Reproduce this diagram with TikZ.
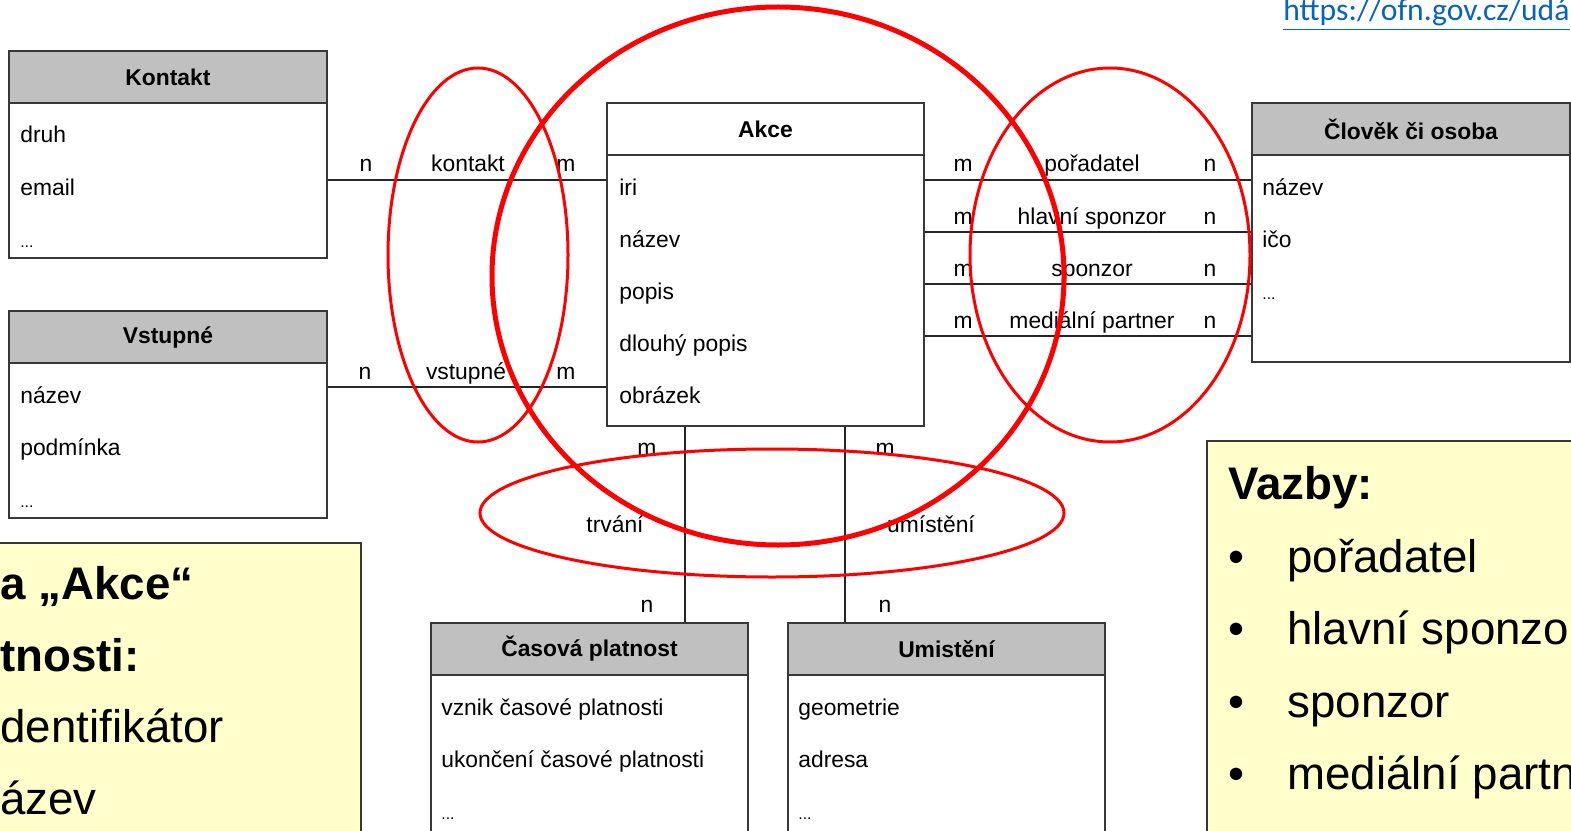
\documentclass[tikz,border=0pt]{standalone}
\usepackage{fontspec}
\setmainfont{Liberation Sans}
\newfontfamily\linkfont{Carlito}
\usetikzlibrary{positioning}

\definecolor{hdrgray}{HTML}{C0C0C0}
\definecolor{boxline}{HTML}{383838}
\definecolor{notefill}{HTML}{FFFFCC}
\definecolor{linkblue}{HTML}{0563C1}
\newcommand{\dgfont}{\fontsize{13}{15}\selectfont}
\newcommand{\notefont}{\fontsize{26}{30}\selectfont}

\begin{document}
\begin{tikzpicture}[x=0.02cm,y=-0.02cm,
  hdr/.style={draw=boxline,fill=hdrgray,line width=0.04cm,minimum width=6.36cm,minimum height=1.04cm,anchor=north west,inner sep=0pt,font=\bfseries\dgfont},
  bodybox/.style={draw=boxline,fill=white,line width=0.04cm,minimum width=6.36cm,anchor=north west,inner sep=0pt},
  attr/.style={anchor=base west,inner sep=0pt,font=\dgfont},
  dots/.style={anchor=base west,inner sep=0pt,font=\fontsize{9}{10}\selectfont},
  card/.style={anchor=base,inner sep=0pt,font=\dgfont},
  conn/.style={draw=black!85,line width=0.04cm},
  ring/.style={draw=red,line width=0.06cm},
  notebox/.style={draw=boxline,fill=notefill,line width=0.03cm},
  note/.style={anchor=base west,inner sep=0pt,font=\notefont}]
\useasboundingbox (0,0) rectangle (1571,831);
\clip (0,0) rectangle (1571,831);

% url
\node[anchor=base west,inner sep=0pt,text=linkblue,font=\linkfont\fontsize{18}{20}\selectfont] (url) at (1283,21) {\underline{https://ofn.gov.cz/udá}};

% Kontakt
\node[bodybox,minimum height=3.1cm] (kontaktB) at (8,102) {};
\node[hdr] (kontaktH) at (8,50) {Kontakt};
\node[attr] (kdruh) at (20,143) {druh};
\node[attr] (kemail) at (20,195) {email};
\node[dots] (kdots) at (20,247) {...};

% Vstupne
\node[bodybox,minimum height=3.1cm] (vstupB) at (8,362) {};
\node[hdr] (vstupH) at (8,310) {Vstupné};
\node[attr] (vnazev) at (20,403) {název};
\node[attr] (vpodm) at (20,455) {podmínka};
\node[dots] (vdots) at (20,507) {...};

% Akce
\node[bodybox,minimum width=6.34cm,minimum height=5.42cm] (akceB) at (606,154) {};
\node[hdr,fill=white,minimum width=6.34cm] (akceH) at (606,102) {Akce};
\node[attr] (airi) at (619,195) {iri};
\node[attr] (anazev) at (619,247) {název};
\node[attr] (apopis) at (619,299) {popis};
\node[attr] (adlouhy) at (619,351) {dlouhý popis};
\node[attr] (aobr) at (619,403) {obrázek};

% Clovek ci osoba
\node[bodybox,minimum height=4.14cm] (clovekB) at (1251,154) {};
\node[hdr] (clovekH) at (1251,102) {Člověk či osoba};
\node[attr] (cnazev) at (1262,195) {název};
\node[attr] (cico) at (1262,247) {ičo};
\node[dots] (cdots) at (1262,299) {...};

% Casova platnost
\node[bodybox,minimum width=6.34cm,minimum height=3.4cm] (casB) at (430,674) {};
\node[hdr,minimum width=6.34cm] (casH) at (430,622) {Časová platnost};
\node[attr] (cvznik) at (441,715) {vznik časové platnosti};
\node[attr] (cukon) at (441,767) {ukončení časové platnosti};
\node[dots] (cadots) at (441,819) {...};

% Umisteni
\node[bodybox,minimum width=6.34cm,minimum height=3.4cm] (umB) at (787,674) {};
\node[hdr,minimum width=6.34cm] (umH) at (787,622) {Umistění};
\node[attr] (ugeo) at (798,715) {geometrie};
\node[attr] (uadr) at (798,767) {adresa};
\node[dots] (udots) at (798,819) {...};

% vazby vlevo
\draw[conn] (kontaktB.east |- 0,180) -- (akceB.west |- 0,180);
\node[card] (kn) at (366,172) {n};
\node[card] (krel) at (468,172) {kontakt};
\node[card] (km) at (566,172) {m};
\draw[conn] (vstupB.east |- 0,387) -- (akceB.west |- 0,387);
\node[card] (vn) at (365,379) {n};
\node[card] (vrel) at (466,379) {vstupné};
\node[card] (vm) at (566,379) {m};

% vazby vpravo
\foreach \y/\rel [count=\i] in {180/pořadatel,232/hlavní sponzor,284/sponzor,336/mediální partner}{
  \draw[conn] (akceB.east |- 0,\y) -- (clovekB.west |- 0,\y);
  \node[card] (rm\i) at (963,\y-8) {m};
  \node[card] (rr\i) at (1092,\y-8) {\rel};
  \node[card] (rn\i) at (1210,\y-8) {n};
}

% vazby dole
\draw[conn] (akceB.south -| 685,0) -- (casH.north -| 685,0);
\node[card] (tm) at (647,455) {m};
\node[card] (trel) at (615,532) {trvání};
\node[card] (tn) at (647,612) {n};
\draw[conn] (akceB.south -| 845,0) -- (umH.north -| 845,0);
\node[card] (um) at (885,455) {m};
\node[card] (urel) at (931,532) {umístění};
\node[card] (un) at (885,612) {n};

% poznamky
\draw[notebox] (-10,543) rectangle (361,845);
\node[note,font=\bfseries\notefont] (l1) at (0,599) {a „Akce“};
\node[note,font=\bfseries\notefont] (l2) at (0,671) {tnosti:};
\node[note] (l3) at (0,742) {dentifikátor};
\node[note] (l4) at (0,814) {ázev};

\draw[notebox] (1207,441) rectangle (1585,845);
\node[note,font=\bfseries\notefont] (vazby) at (1228,499) {Vazby:};
\foreach \y/\txt [count=\i] in {572/pořadatel,644/hlavní sponzor,717/sponzor,789/mediální partner}{
  \node[anchor=base,inner sep=0pt,font=\notefont] (b\i) at (1236,\y) {•};
  \node[note] (t\i) at (1287,\y) {\txt};
}

% cervene ovaly
\draw[ring] (478,255) ellipse [x radius=90,y radius=187];
\draw[ring] (1110,255) ellipse [x radius=140,y radius=187];
\draw[ring] (772,513) ellipse [x radius=292,y radius=64];
\draw[ring,line width=0.1cm] (778,276) ellipse [x radius=286,y radius=269];
\end{tikzpicture}
\end{document}
